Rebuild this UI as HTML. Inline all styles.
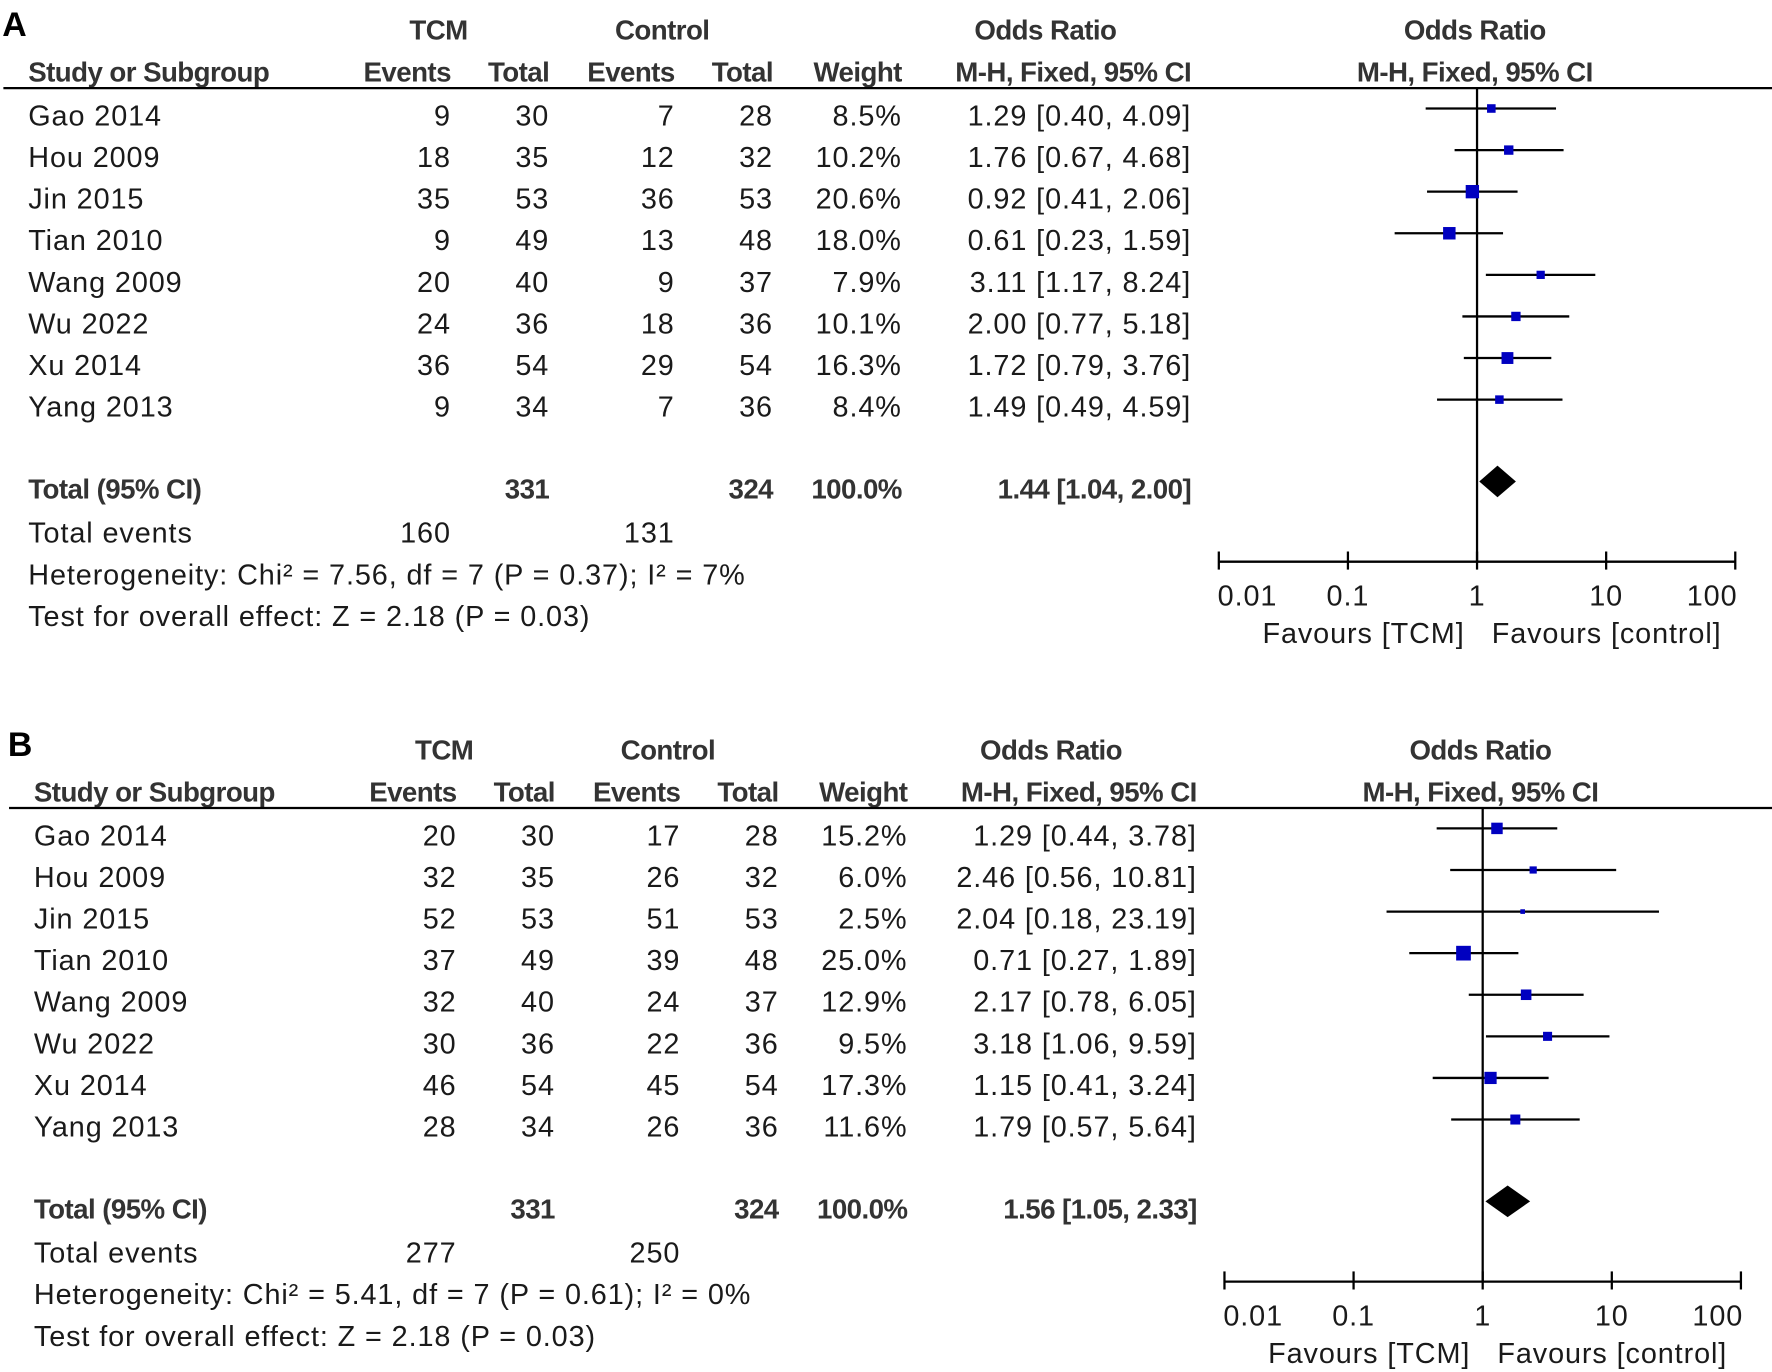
<!DOCTYPE html>
<html><head><meta charset="utf-8"><style>
html,body{margin:0;padding:0;background:#fff;}
svg{display:block;}
text{font-family:"Liberation Sans",Arial,sans-serif;fill:#1a1a1a;}
.n{font-size:25.5px;letter-spacing:0.8px;}
.b{font-size:24.5px;font-weight:bold;fill:#333;letter-spacing:-0.5px;}
.p{font-size:30px;font-weight:bold;fill:#000;}
</style></head><body>
<svg id="fig" width="1772" height="1372" viewBox="0 0 1568 1214" preserveAspectRatio="none" xmlns="http://www.w3.org/2000/svg"></svg>
<script>
const studies = ["Gao 2014","Hou 2009","Jin 2015","Tian 2010","Wang 2009","Wu 2022","Xu 2014","Yang 2013"];
const aTcmEvents = [9,18,35,9,20,24,36,9];
const aTcmTotal = [30,35,53,49,40,36,54,34];
const aCtlEvents = [7,12,36,13,9,18,29,7];
const aCtlTotal = [28,32,53,48,37,36,54,36];
const aWeight = [8.5,10.2,20.6,18.0,7.9,10.1,16.3,8.4];
const aOR = [1.29,1.76,0.92,0.61,3.11,2.00,1.72,1.49];
const aLo = [0.40,0.67,0.41,0.23,1.17,0.77,0.79,0.49];
const aHi = [4.09,4.68,2.06,1.59,8.24,5.18,3.76,4.59];
const aTotal = {or:1.44, lo:1.04, hi:2.00, tcmN:331, ctlN:324, tcmEv:160, ctlEv:131};
const aHet = "Heterogeneity: Chi\u00b2 = 7.56, df = 7 (P = 0.37); I\u00b2 = 7%";
const aTest = "Test for overall effect: Z = 2.18 (P = 0.03)";

const bTcmEvents = [20,32,52,37,32,30,46,28];
const bTcmTotal = [30,35,53,49,40,36,54,34];
const bCtlEvents = [17,26,51,39,24,22,45,26];
const bCtlTotal = [28,32,53,48,37,36,54,36];
const bWeight = [15.2,6.0,2.5,25.0,12.9,9.5,17.3,11.6];
const bOR = [1.29,2.46,2.04,0.71,2.17,3.18,1.15,1.79];
const bLo = [0.44,0.56,0.18,0.27,0.78,1.06,0.41,0.57];
const bHi = [3.78,10.81,23.19,1.89,6.05,9.59,3.24,5.64];
const bTotal = {or:1.56, lo:1.05, hi:2.33, tcmN:331, ctlN:324, tcmEv:277, ctlEv:250};
const bHet = "Heterogeneity: Chi\u00b2 = 5.41, df = 7 (P = 0.61); I\u00b2 = 0%";
const bTest = "Test for overall effect: Z = 2.18 (P = 0.03)";

const tickVals = [0.01,0.1,1,10,100];
const tickLabels = ["0.01","0.1","1","10","100"];

const svg = document.getElementById('fig');
const NS = "http://www.w3.org/2000/svg";
function mk(tag, attrs, parent){const e=document.createElementNS(NS,tag);for(const k in attrs)e.setAttribute(k,attrs[k]);(parent||svg).appendChild(e);return e;}
function txt(g,x,y,s,cls,anchor){const t=mk('text',{x:x,y:y,class:cls,'text-anchor':anchor||'start'},g);t.textContent=s;return t;}
const f2 = v => v.toFixed(2);

function panel(label, dx, dy, d){
  const g = mk('g',{transform:`translate(${dx},${dy})`});
  
  
  const center = 1307, dec = 114.25;
  const xs = v => center + Math.log10(v)*dec;
  const rowY = i => 102 + i*36.8;
  let t;
  t=txt(g,2,32,label,'p');  
  txt(g,388,35,'TCM','b','middle');
  txt(g,586,35,'Control','b','middle');
  txt(g,925,35,'Odds Ratio','b','middle');
  txt(g,1305,35,'Odds Ratio','b','middle');
  const hy=72;
  txt(g,25,hy,'Study or Subgroup','b');
  txt(g,399,hy,'Events','b','end');
  txt(g,486,hy,'Total','b','end');
  txt(g,597,hy,'Events','b','end');
  txt(g,684,hy,'Total','b','end');
  txt(g,798,hy,'Weight','b','end');
  txt(g,1054,hy,'M-H, Fixed, 95% CI','b','end');
  txt(g,1305,hy,'M-H, Fixed, 95% CI','b','middle');
  const hl=mk('line',{x1:3,y1:78,x2:1568,y2:78,stroke:'#000','stroke-width':2},g);
   
  const axisY = 497;
  const vl=mk('line',{x1:center,y1:78,x2:center,y2:axisY,stroke:'#000','stroke-width':2},g);
   
  studies.forEach((s,i)=>{
    const y = rowY(i)+9;
    txt(g,25,y,s,'n');
    txt(g,399,y,String(d.te[i]),'n','end');
    txt(g,486,y,String(d.tt[i]),'n','end');
    txt(g,597,y,String(d.ce[i]),'n','end');
    txt(g,684,y,String(d.ct[i]),'n','end');
    txt(g,798,y,d.w[i].toFixed(1)+'%','n','end');
    txt(g,1054,y,`${f2(d.or[i])} [${f2(d.lo[i])}, ${f2(d.hi[i])}]`,'n','end');
    const cy = rowY(i)-6;
    const ln = mk('line',{x1:xs(d.lo[i]),y1:cy,x2:xs(d.hi[i]),y2:cy,stroke:'#000','stroke-width':2},g);
     
    const sz = Math.sqrt(d.w[i])*2.6;
    const r = mk('rect',{x:xs(d.or[i])-sz/2,y:cy-sz/2,width:sz,height:sz,fill:'#0000c0'},g);
     
  });
  const ty = 441;
  txt(g,25,ty,'Total (95% CI)','b');
  txt(g,486,ty,String(d.tot.tcmN),'b','end');
  txt(g,684,ty,String(d.tot.ctlN),'b','end');
  txt(g,798,ty,'100.0%','b','end');
  txt(g,1054,ty,`${f2(d.tot.or)} [${f2(d.tot.lo)}, ${f2(d.tot.hi)}]`,'b','end');
  const dyc = 426, dh = 14;
  const dm = mk('polygon',{points:`${xs(d.tot.lo)},${dyc} ${xs(d.tot.or)},${dyc-dh} ${xs(d.tot.hi)},${dyc} ${xs(d.tot.or)},${dyc+dh}`,fill:'#000'},g);
   
  txt(g,25,480,'Total events','n');
  txt(g,399,480,String(d.tot.tcmEv),'n','end');
  txt(g,597,480,String(d.tot.ctlEv),'n','end');
  txt(g,25,517,d.het,'n');
  txt(g,25,554,d.test,'n');
  const ax = mk('line',{x1:xs(tickVals[0]),y1:axisY,x2:xs(tickVals[tickVals.length-1]),y2:axisY,stroke:'#000','stroke-width':2},g);
   
  tickVals.forEach((v,i)=>{
    const tk = mk('line',{x1:xs(v),y1:axisY-9,x2:xs(v),y2:axisY+7,stroke:'#000','stroke-width':2},g);
     
    const anc = i===0?'start':(i===tickVals.length-1?'end':'middle');
    const lx = i===0?xs(v)-1:(i===tickVals.length-1?xs(v)+2:xs(v));
    txt(g,lx,536,tickLabels[i],'n',anc);
  });
  txt(g,center-11,569,'Favours [TCM]','n','end');
  txt(g,center+13,569,'Favours [control]','n','start');
}
panel('A',0,0,{te:aTcmEvents,tt:aTcmTotal,ce:aCtlEvents,ct:aCtlTotal,w:aWeight,or:aOR,lo:aLo,hi:aHi,tot:aTotal,het:aHet,test:aTest});
panel('B',5,637,{te:bTcmEvents,tt:bTcmTotal,ce:bCtlEvents,ct:bCtlTotal,w:bWeight,or:bOR,lo:bLo,hi:bHi,tot:bTotal,het:bHet,test:bTest});
</script>
</body></html>
